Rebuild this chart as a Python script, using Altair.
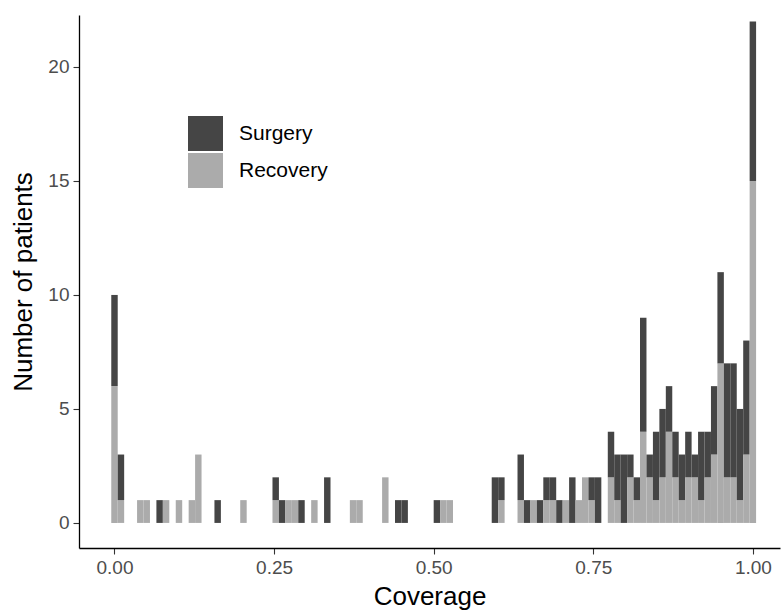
import altair as alt
import pandas as pd

# Histogram of coverage, 100 bins centred on k/99 (k = 0..99)
bin_index = [0, 1, 4, 5, 7, 8, 10, 12, 13, 16, 20, 25, 26, 27, 28, 29, 31, 33, 37, 38,
             42, 44, 45, 50, 51, 52, 59, 60, 63, 64, 65, 66, 67, 68, 69, 70, 71, 72, 73,
             74, 75, 77, 78, 79, 80, 81, 82, 83, 84, 85, 86, 87, 88, 89, 90, 91, 92, 93,
             94, 95, 96, 97, 98, 99]
recovery = [6, 1, 1, 1, 0, 1, 1, 1, 3, 0, 1, 1, 0, 1, 1, 0, 1, 0, 1, 1,
            2, 0, 0, 0, 1, 1, 0, 1, 1, 0, 1, 0, 1, 1, 0, 1, 0, 1, 2,
            1, 0, 2, 1, 0, 2, 1, 4, 2, 1, 2, 4, 2, 1, 2, 2, 1, 2, 3,
            7, 2, 2, 1, 3, 15]
surgery = [4, 2, 0, 0, 1, 0, 0, 0, 0, 1, 0, 1, 1, 0, 0, 1, 0, 2, 0, 0,
           0, 1, 1, 1, 0, 0, 2, 1, 2, 1, 0, 1, 1, 1, 1, 0, 2, 0, 0,
           1, 2, 2, 2, 3, 1, 1, 5, 1, 3, 3, 2, 2, 2, 2, 1, 3, 2, 3,
           4, 5, 5, 4, 5, 7]

groups = ["Surgery", "Recovery"]
fills = ["#454545", "#ababab"]
x_ticks = [0, 0.25, 0.5, 0.75, 1.0]
y_ticks = [0, 5, 10, 15, 20]

n_bins = 100
step = 1 / (n_bins - 1)

rows = []
for k, r, s in zip(bin_index, recovery, surgery):
    lo, hi = (k - 0.5) * step, (k + 0.5) * step
    # Recovery sits at the bottom of each stack, Surgery on top
    if r > 0:
        rows.append({"x0": lo, "x1": hi, "y0": 0, "y1": r, "group": "Recovery"})
    if s > 0:
        rows.append({"x0": lo, "x1": hi, "y0": r, "y1": r + s, "group": "Surgery"})
df = pd.DataFrame(rows)

font = "Liberation Sans"

chart = alt.Chart(df).mark_bar(strokeWidth=0).encode(
    x=alt.X("x0:Q",
            scale=alt.Scale(domain=[-0.0556, 1.0425], nice=False, zero=False),
            axis=alt.Axis(values=x_ticks, format=".2f", title="Coverage")),
    x2="x1:Q",
    y=alt.Y("y0:Q",
            scale=alt.Scale(domain=[-1.1, 22.28], nice=False, zero=False),
            axis=alt.Axis(values=y_ticks, title="Number of patients")),
    y2="y1:Q",
    color=alt.Color("group:N",
                    scale=alt.Scale(domain=groups, range=fills),
                    legend=alt.Legend(title=None, orient="none", legendX=109, legendY=101,
                                      symbolType="square", symbolSize=1225,
                                      symbolStrokeWidth=0, symbolOpacity=1,
                                      labelFontSize=21, labelFont=font, labelColor="#000000",
                                      labelOffset=16, rowPadding=2, padding=0)),
).properties(
    width=701,
    height=533,
    padding={"left": 79, "top": 15, "right": 1, "bottom": 62},
    autosize=alt.AutoSizeParams(type="none"),
).configure_view(
    stroke=None
).configure_axis(
    grid=False,
    domainColor="#000000",
    domainWidth=1.3,
    tickColor="#333333",
    tickSize=6,
    tickWidth=1.1,
    labelFont=font,
    labelFontSize=19,
    labelColor="#4d4d4d",
    labelPadding=4,
    titleFont=font,
    titleFontSize=26,
    titleFontWeight="normal",
    titleColor="#000000",
).configure_axisX(
    titlePadding=6
).configure_axisY(
    titlePadding=11
)

chart.save("out.html", embed_options={"renderer": "svg", "actions": False})
